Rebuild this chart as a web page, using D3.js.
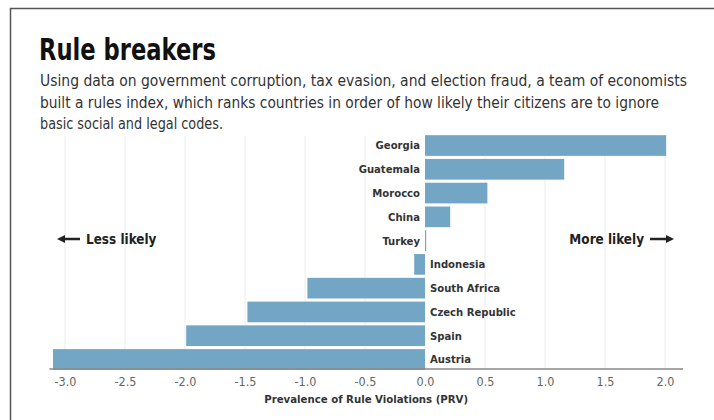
<!DOCTYPE html>
<html>
<head>
<meta charset="utf-8">
<script src="https://cdn.jsdelivr.net/npm/d3@7"></script>
<style>
  body { margin: 0; background: #fff; }
  svg { display: block; font-family: "Liberation Sans Narrow", "DejaVu Sans Condensed", sans-serif; }
</style>
</head>
<body>
<svg id="chart" width="714" height="420"></svg>
<script>
// Rule violations index
const countries = ['Georgia', 'Guatemala', 'Morocco', 'China', 'Turkey', 'Indonesia',
    'South Africa', 'Czech Republic', 'Spain', 'Austria'];
const prv = [2.01, 1.16, 0.52, 0.21, 0.01, -0.09, -0.98, -1.48, -1.99, -3.1];
const tickValues = [-3.0, -2.5, -2.0, -1.5, -1.0, -0.5, 0.0, 0.5, 1.0, 1.5, 2.0];
const subtitleLines = [
    'Using data on government corruption, tax evasion, and election fraud, a team of economists',
    'built a rules index, which ranks countries in order of how likely their citizens are to ignore',
    'basic social and legal codes.'
];

const svg = d3.select('#chart');
const data = countries.map((c, i) => ({ country: c, value: prv[i] }));

// frame on the left and top
svg.append('path')
    .attr('d', 'M10.5,420 V8.5 H714')
    .attr('fill', 'none')
    .attr('stroke', '#555')
    .attr('stroke-width', 1.5);

// Title and intro text
svg.append('text')
    .attr('x', 39).attr('y', 60)
    .attr('font-size', 30).attr('font-weight', 'bold')
    .attr('fill', '#111')
    .attr('textLength', 177)
    .attr('lengthAdjust', 'spacingAndGlyphs')
    .text('Rule breakers');

const subWidths = [647, 619, 183];
svg.selectAll('text.sub').data(subtitleLines).join('text')
    .attr('class', 'sub')
    .attr('x', 40)
    .attr('y', (d, i) => 86 + i * 21.5)
    .attr('font-size', 15.5)
    .attr('fill', '#333')
    .attr('textLength', (d, i) => subWidths[i])
    .attr('lengthAdjust', 'spacingAndGlyphs')
    .text(d => d);

// Scales
const x = d3.scaleLinear().domain([-3, 2]).range([65, 665]);
const y = d3.scaleBand()
    .domain(countries)
    .range([134, 371])
    .paddingInner(0.13)
    .paddingOuter(0.05);
const axisY = 369;

// light vertical grid
svg.append('g')
    .selectAll('line').data(tickValues.filter(d => d !== 0)).join('line')
    .attr('x1', d => x(d)).attr('x2', d => x(d))
    .attr('y1', 136).attr('y2', axisY)
    .attr('stroke', '#ececec')
    .attr('stroke-width', 1);

// bars
svg.append('g')
    .selectAll('rect').data(data).join('rect')
    .attr('x', d => x(Math.min(0, d.value)))
    .attr('y', d => y(d.country))
    .attr('width', d => Math.abs(x(d.value) - x(0)))
    .attr('height', y.bandwidth())
    .attr('fill', '#72a6c4');

// country labels, on the opposite side of zero from the bar
svg.append('g')
    .selectAll('text').data(data).join('text')
    .attr('x', d => d.value >= 0 ? x(0) - 5 : x(0) + 5)
    .attr('y', d => y(d.country) + y.bandwidth() / 2)
    .attr('dy', '0.35em')
    .attr('text-anchor', d => d.value >= 0 ? 'end' : 'start')
    .attr('font-size', 11.2)
    .attr('font-weight', 'bold')
    .attr('fill', '#333')
    .text(d => d.country);

// x axis
const xAxis = d3.axisBottom(x)
    .tickValues(tickValues)
    .tickFormat(d => d3.format('.1f')(d).replace('\u2212', '-'))
    .tickSize(0)
    .tickPadding(8);

const axisG = svg.append('g')
    .attr('transform', `translate(0,${axisY})`)
    .call(xAxis);
axisG.select('.domain').remove();
axisG.append('line')
    .attr('x1', x(-3.13)).attr('x2', x(2.15))
    .attr('stroke', '#888').attr('stroke-width', 1.5);
axisG.selectAll('.tick text')
    .attr('font-family', '"Liberation Sans Narrow", "DejaVu Sans Condensed", sans-serif')
    .attr('font-size', 12.5)
    .attr('fill', '#666');

svg.append('text')
    .attr('x', x(-0.49))
    .attr('y', 403)
    .attr('text-anchor', 'middle')
    .attr('font-size', 11.3)
    .attr('font-weight', 'bold')
    .attr('fill', '#333')
    .text('Prevalence of Rule Violations (PRV)');

// direction hints
const hintY = 239;
const hints = svg.append('g').attr('font-size', 13.4).attr('font-weight', 'bold').attr('fill', '#222');
hints.append('text')
    .attr('x', 86).attr('y', hintY).attr('dy', '0.35em')
    .text('Less likely');
hints.append('text')
    .attr('x', 644).attr('y', hintY).attr('dy', '0.35em')
    .attr('text-anchor', 'end')
    .text('More likely');

function arrow(x1, x2) {
    const dir = Math.sign(x2 - x1);
    hints.append('line')
        .attr('x1', x1).attr('x2', x2 - dir * 6)
        .attr('y1', hintY).attr('y2', hintY)
        .attr('stroke', '#222').attr('stroke-width', 2.5);
    hints.append('path')
        .attr('d', `M${x2},${hintY} L${x2 - dir * 8},${hintY - 4} L${x2 - dir * 8},${hintY + 4} Z`)
        .attr('fill', '#222');
}
arrow(80, 57);
arrow(650, 674);
</script>
</body>
</html>
